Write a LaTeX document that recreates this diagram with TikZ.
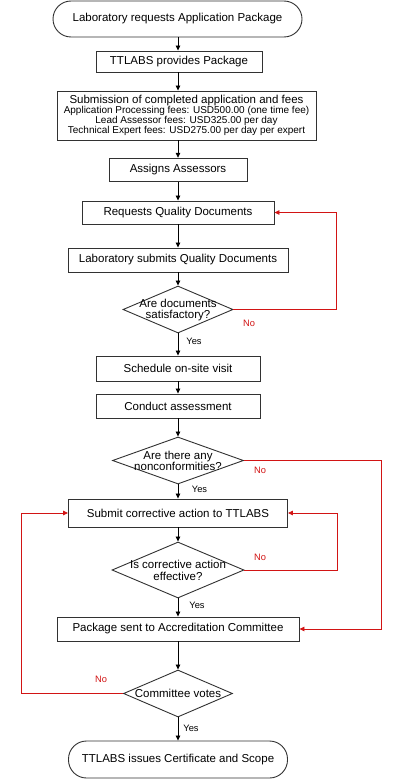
\documentclass[tikz,border=0pt]{standalone}
\usepackage{fontspec}
\setmainfont{Liberation Sans}
\usetikzlibrary{shapes.geometric,arrows.meta}
\definecolor{loopred}{RGB}{210,20,20}
\definecolor{edge}{RGB}{50,50,50}
\tikzset{
  base/.style={draw=edge, line width=0.9pt, font=\fontsize{11.5}{12}\selectfont, inner sep=0pt},
  box/.style={base, rectangle},
  term/.style={base, rectangle, rounded corners=18pt},
  dia/.style={base, diamond, aspect=2},
  arr/.style={line width=0.8pt, -{Triangle[length=5pt,width=4.5pt]}},
  redarr/.style={draw=loopred, line width=0.8pt, -{Triangle[length=5pt,width=4.5pt]}},
  yes/.style={font=\fontsize{9.3}{10}\selectfont, inner sep=0pt},
  no/.style={font=\fontsize{9.3}{10}\selectfont, text=loopred, inner sep=0pt},
  dtext/.style={font=\fontsize{11.5}{11.3}\selectfont, align=center, inner sep=0pt}
}
\begin{document}
\begin{tikzpicture}[x=1pt,y=-1pt]
\useasboundingbox (0,0) rectangle (403,781);
\fill[white] (0,0) rectangle (403,781);

\node[term, minimum width=249pt, minimum height=36pt] (start) at (177.5,19) {Laboratory requests Application Package};
\node[box, minimum width=166pt, minimum height=21pt] (b2) at (179,61.5) {TTLABS provides Package};
\node[box, minimum width=259pt, minimum height=49pt, align=center, font=\fontsize{10}{9.8}\selectfont] (b3) at (186.5,115.5)
  {{\fontsize{11.5}{11}\selectfont Submission of completed application and fees}\\
   Application Processing fees: USD500.00 (one time fee)\\
   Lead Assessor fees: USD325.00 per day\\
   Technical Expert fees: USD275.00 per day per expert};
\node[box, minimum width=138pt, minimum height=23.5pt] (b4) at (178,170) {Assigns Assessors};
\node[box, minimum width=192pt, minimum height=23pt] (b5) at (178,212.5) {Requests Quality Documents};
\node[box, minimum width=220pt, minimum height=24pt] (b6) at (178,260) {Laboratory submits Quality Documents};
\node[dia, minimum width=110pt, minimum height=47pt] (d1) at (178,309.5) {};
\node[dtext] (d1t) at (178,310) {Are documents\\satisfactory?};
\node[box, minimum width=164pt, minimum height=25pt] (b8) at (178,368.5) {Schedule on-site visit};
\node[box, minimum width=164pt, minimum height=24pt] (b9) at (178,406) {Conduct assessment};
\node[dia, minimum width=131pt, minimum height=47pt] (d2) at (178,460.5) {};
\node[dtext] (d2t) at (178,461) {Are there any\\nonconformities?};
\node[box, minimum width=219pt, minimum height=28pt] (b11) at (178,513) {Submit corrective action to TTLABS};
\node[dia, minimum width=132pt, minimum height=56pt] (d3) at (178,570) {};
\node[dtext] (d3t) at (178,570.5) {Is corrective action\\effective?};
\node[box, minimum width=242pt, minimum height=24pt] (b13) at (178,629) {Package sent to Accreditation Committee};
\node[dia, minimum width=109pt, minimum height=47pt] (d4) at (178,693.5) {};
\node[dtext] (d4t) at (178,693.5) {Committee votes};
\node[term, minimum width=219pt, minimum height=37pt] (end) at (178,759.5) {TTLABS issues Certificate and Scope};

% main flow
\draw[arr] (start.south -| 178,0) -- (b2.north -| 178,0);
\draw[arr] (b2.south -| 178,0) -- (b3.north -| 178,0);
\draw[arr] (b3.south -| 178,0) -- (b4.north);
\draw[arr] (b4) -- (b5);
\draw[arr] (b5) -- (b6);
\draw[arr] (b6) -- (d1);
\draw[arr] (d1) -- (b8);
\draw[arr] (b8) -- (b9);
\draw[arr] (b9) -- (d2);
\draw[arr] (d2) -- (b11);
\draw[arr] (b11) -- (d3);
\draw[arr] (d3) -- (b13);
\draw[arr] (b13) -- (d4);
\draw[arr] (d4) -- (end);

% Yes labels
\node[yes] (y1) at (194,341) {Yes};
\node[yes] (y2) at (199.5,489) {Yes};
\node[yes] (y3) at (197,605) {Yes};
\node[yes] (y4) at (191,728) {Yes};

% red loops
\coordinate (c1) at (336,0);
\draw[redarr] (d1.east) -| (c1 |- b5.east) -- (b5.east);
\node[no] (n1) at (249,323) {No};

\coordinate (c2) at (381,0);
\draw[redarr] (d2.east) -| (c2 |- b13.east) -- (b13.east);
\node[no] (n2) at (260,470) {No};

\coordinate (c3) at (337,0);
\draw[redarr] (d3.east) -| (c3 |- b11.east) -- (b11.east);
\node[no] (n3) at (260,557) {No};

\coordinate (c4) at (21,0);
\draw[redarr] (d4.west) -| (c4 |- b11.west) -- (b11.west);
\node[no] (n4) at (101,679) {No};
\end{tikzpicture}
\end{document}
